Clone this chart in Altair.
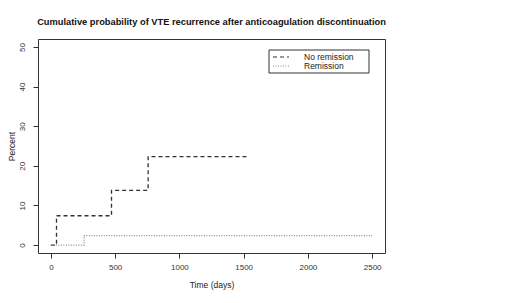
import altair as alt
import pandas as pd

# No remission curve (step function)
nr_days = [0, 44, 472, 757, 1530]
nr_pct = [0, 7.4, 13.8, 22.3, 22.3]
# Remission curve
r_days = [0, 259, 2500]
r_pct = [0, 2.4, 2.4]

groups = ["No remission", "Remission"]
x_ticks = [0, 500, 1000, 1500, 2000, 2500]
y_ticks = [0, 10, 20, 30, 40, 50]

df = pd.concat([
    pd.DataFrame({"days": nr_days, "pct": nr_pct, "group": groups[0], "ord": range(len(nr_days))}),
    pd.DataFrame({"days": r_days, "pct": r_pct, "group": groups[1], "ord": range(len(r_days))}),
])

FONT = "Liberation Sans"
COLORS = ["#333333", "#8a8a8a"]
DASHES = [[4, 3], [1, 1.5]]

lines = alt.Chart(df).mark_line(interpolate="step-after", strokeWidth=1.3).encode(
    x=alt.X("days:Q", title="Time (days)",
            scale=alt.Scale(domain=[-100, 2600], nice=False, zero=False),
            axis=alt.Axis(values=x_ticks, grid=False, domain=False, tickColor="#333",
                          tickSize=5, labelFontSize=8, labelColor="#333", labelPadding=5,
                          titleFontSize=8.5, titleFontWeight="normal", titleColor="#222",
                          titlePadding=9, labelFont=FONT, titleFont=FONT, format="d")),
    y=alt.Y("pct:Q", title="Percent",
            scale=alt.Scale(domain=[-2, 52], nice=False),
            axis=alt.Axis(values=y_ticks, grid=False, domain=False, tickColor="#333",
                          tickSize=5, labelFontSize=8, labelColor="#333", labelAngle=-90,
                          labelAlign="center", labelBaseline="bottom", labelPadding=7,
                          titleFontSize=8.5, titleFontWeight="normal", titleColor="#222",
                          titleX=-27, titleY=107, titleAngle=-90, titleBaseline="middle",
                          titleAlign="center",
                          labelFont=FONT, titleFont=FONT)),
    color=alt.Color("group:N", scale=alt.Scale(domain=groups, range=COLORS), legend=None),
    strokeDash=alt.StrokeDash("group:N", scale=alt.Scale(domain=groups, range=DASHES), legend=None),
    order="ord:Q",
)

# Legend (drawn as decoration)
leg_box = alt.Chart(pd.DataFrame({"a": [0]})).mark_rect(fill="white", stroke="#333", strokeWidth=1).encode(
    x=alt.value(231), x2=alt.value(331), y=alt.value(11), y2=alt.value(34))

leg_df = pd.DataFrame({"group": groups, "yy": [18, 27]})
leg_lines = alt.Chart(leg_df).mark_rule(strokeWidth=1.2).encode(
    x=alt.value(235), x2=alt.value(251), y=alt.Y("yy:Q", scale=None),
    color=alt.Color("group:N", scale=alt.Scale(domain=groups, range=COLORS), legend=None),
    strokeDash=alt.StrokeDash("group:N", scale=alt.Scale(domain=groups, range=DASHES), legend=None),
)
leg_text = alt.Chart(leg_df).mark_text(align="left", baseline="middle", fontSize=8.5, font=FONT,
                                       color="#222").encode(
    x=alt.value(266), y=alt.Y("yy:Q", scale=None), text="group:N")

chart = alt.layer(lines, leg_box, leg_lines, leg_text).properties(
    width=347, height=214,
    title=alt.TitleParams("Cumulative probability of VTE recurrence after anticoagulation discontinuation",
                          fontSize=9.3, fontWeight="bold", font=FONT, color="#111",
                          anchor="middle", offset=12),
    autosize=alt.AutoSizeParams(type="none"),
    padding={"left": 30, "top": 31, "right": 120, "bottom": 42},
).configure_view(stroke="#333", strokeWidth=1)

chart.save("out.html", embed_options={"renderer": "svg", "actions": False})
